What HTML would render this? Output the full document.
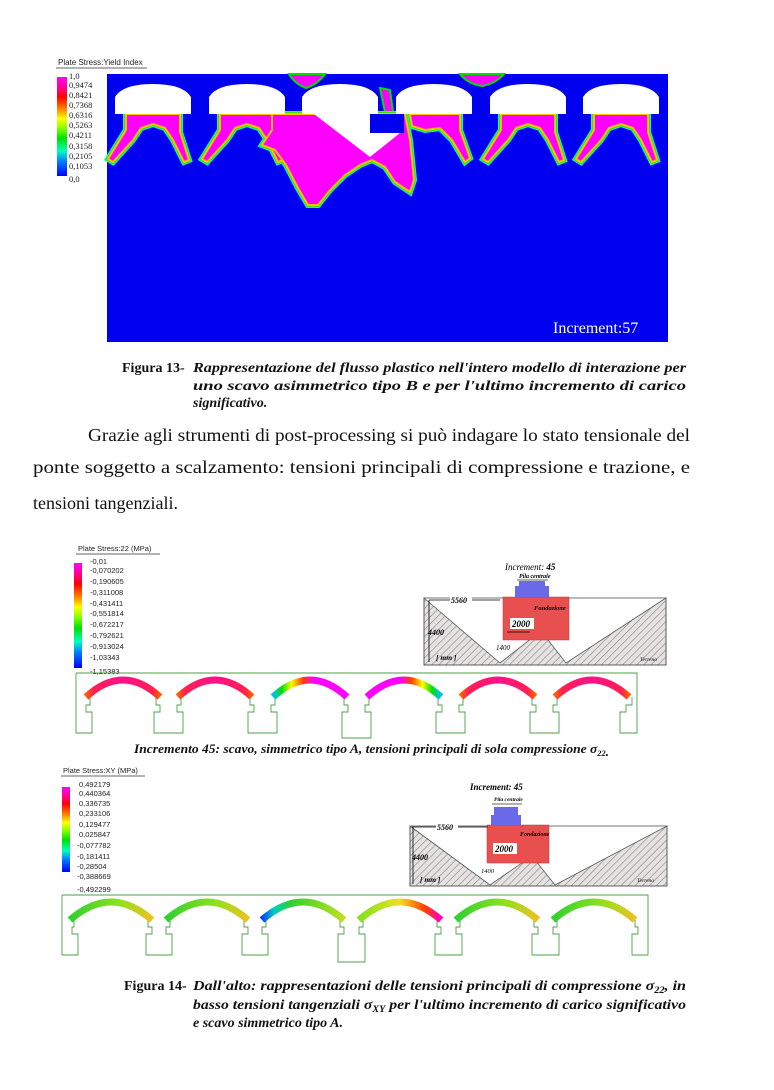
<!DOCTYPE html>
<html><head><meta charset="utf-8"><style>
html,body{margin:0;padding:0;background:#fff}
svg{display:block}
.s{font-family:"Liberation Serif",serif}
.a{font-family:"Liberation Sans","DejaVu Sans",sans-serif}
</style></head><body>
<svg width="774" height="1090" viewBox="0 0 774 1090" xmlns="http://www.w3.org/2000/svg">
<defs>
<linearGradient id="lg" x1="0" y1="0" x2="0" y2="1">
<stop offset="0" stop-color="#ff00ff"/><stop offset="0.12" stop-color="#ff0080"/><stop offset="0.2" stop-color="#ff0000"/><stop offset="0.32" stop-color="#ff8000"/><stop offset="0.42" stop-color="#ffff00"/><stop offset="0.52" stop-color="#80ff00"/><stop offset="0.62" stop-color="#00e000"/><stop offset="0.75" stop-color="#00ffc0"/><stop offset="0.85" stop-color="#0080ff"/><stop offset="1" stop-color="#0000ff"/>
</linearGradient>
<pattern id="hatch" width="5" height="5" patternUnits="userSpaceOnUse" patternTransform="rotate(45)">
<rect width="5" height="5" fill="#e6e2e2"/><line x1="0" y1="0" x2="0" y2="5" stroke="#8a8a8a" stroke-width="1.3"/>
</pattern>
<linearGradient id="ap" x1="0" y1="0" x2="1" y2="0"><stop offset="0" stop-color="#ff6000"/><stop offset="0.1" stop-color="#ff2050"/><stop offset="0.5" stop-color="#ff1090"/><stop offset="0.9" stop-color="#ff2050"/><stop offset="1" stop-color="#ff6000"/></linearGradient>
<linearGradient id="a3" x1="0" y1="0" x2="1" y2="0"><stop offset="0" stop-color="#00c0ff"/><stop offset="0.12" stop-color="#00e000"/><stop offset="0.25" stop-color="#ffff00"/><stop offset="0.4" stop-color="#ff4000"/><stop offset="0.55" stop-color="#ff00ff"/><stop offset="1" stop-color="#ff00ff"/></linearGradient>
<linearGradient id="a4" x1="1" y1="0" x2="0" y2="0"><stop offset="0" stop-color="#00c0ff"/><stop offset="0.12" stop-color="#00e000"/><stop offset="0.25" stop-color="#ffff00"/><stop offset="0.4" stop-color="#ff4000"/><stop offset="0.55" stop-color="#ff00ff"/><stop offset="1" stop-color="#ff00ff"/></linearGradient>
<linearGradient id="xg" x1="0" y1="0" x2="1" y2="0"><stop offset="0" stop-color="#30d030"/><stop offset="0.6" stop-color="#90e020"/><stop offset="1" stop-color="#f0c020"/></linearGradient>
<linearGradient id="x3" x1="0" y1="0" x2="1" y2="0"><stop offset="0" stop-color="#0040ff"/><stop offset="0.15" stop-color="#00d0c0"/><stop offset="0.35" stop-color="#30d030"/><stop offset="1" stop-color="#c0e020"/></linearGradient>
<linearGradient id="x4" x1="0" y1="0" x2="1" y2="0"><stop offset="0" stop-color="#80e020"/><stop offset="0.5" stop-color="#f0e020"/><stop offset="0.8" stop-color="#ff4000"/><stop offset="1" stop-color="#ff00c0"/></linearGradient>
<g id="plume">
<path d="M-27,114 L27,114 L27,132 L36,160 L31,162 L20,140 L12,128 L0,124 L-12,128 L-20,140 L-40,162 L-45,159 L-27,130 Z"/>
</g>
<g id="deck"><path d="M-38,114 V97 Q-30,84 0,84 Q30,84 38,97 V114 Z" fill="#fff"/></g>
</defs>

<!-- FIGURE 13 -->
<text x="58" y="65" class="a" font-size="8" fill="#222">Plate Stress:Yield Index</text>
<line x1="56" y1="68" x2="147" y2="68" stroke="#333" stroke-width="0.8"/>
<rect x="57" y="77" width="10" height="99" fill="url(#lg)"/>
<g class="s" font-size="8.5" fill="#222">
<text x="69" y="79">1,0</text><text x="69" y="88">0,9474</text><text x="69" y="98">0,8421</text><text x="69" y="108">0,7368</text><text x="69" y="118">0,6316</text><text x="69" y="128">0,5263</text><text x="69" y="138">0,4211</text><text x="69" y="149">0,3158</text><text x="69" y="159">0,2105</text><text x="69" y="169">0,1053</text><text x="69" y="182">0,0</text>
</g>
<rect x="107" y="74" width="561" height="268" fill="#0000f0"/>
<g fill="#ff00ff">
<path d="M289,74 L325,74 Q318,84 306,88 Q295,84 289,74Z" stroke="#00e000" stroke-width="2"/>
<path d="M460,74 L504,74 Q495,84 482,86 Q468,84 460,74Z" stroke="#00e000" stroke-width="2"/>
<path d="M380,88 L390,90 L393,112 L385,112 Z" stroke="#00e000" stroke-width="2"/>
</g>
<g>
<g stroke="#00ffd0" stroke-width="6" fill="#00ffd0">
<use href="#plume" x="153"/><use href="#plume" x="247"/><use href="#plume" x="528"/><use href="#plume" x="621"/>
<path d="M272,114 L405,114 L410,140 L414,180 L410,192 L395,182 L385,167 L372,160 L360,165 L345,175 L330,190 L318,205 L308,205 L298,188 L286,165 L275,150 L262,145 L272,130Z"/>
<path d="M410,114 L460,114 L460,130 L470,158 L465,162 L452,140 L440,128 L425,130 L412,126Z"/>
</g>
<g stroke="#40e000" stroke-width="4" fill="#40e000">
<use href="#plume" x="153"/><use href="#plume" x="247"/><use href="#plume" x="528"/><use href="#plume" x="621"/>
<path d="M272,114 L405,114 L410,140 L414,180 L410,192 L395,182 L385,167 L372,160 L360,165 L345,175 L330,190 L318,205 L308,205 L298,188 L286,165 L275,150 L262,145 L272,130Z"/>
<path d="M410,114 L460,114 L460,130 L470,158 L465,162 L452,140 L440,128 L425,130 L412,126Z"/>
</g>
<g stroke="#ffc000" stroke-width="2" fill="#ff00ff">
<use href="#plume" x="153"/><use href="#plume" x="247"/><use href="#plume" x="528"/><use href="#plume" x="621"/>
<path d="M272,114 L405,114 L410,140 L414,180 L410,192 L395,182 L385,167 L372,160 L360,165 L345,175 L330,190 L318,205 L308,205 L298,188 L286,165 L275,150 L262,145 L272,130Z"/>
<path d="M410,114 L460,114 L460,130 L470,158 L465,162 L452,140 L440,128 L425,130 L412,126Z"/>
</g>
</g>
<path d="M314,114 L370,157 L400,133 L370,133 L370,114Z" fill="#fff"/>
<rect x="370" y="114" width="34" height="19" fill="#0000f0"/>
<g>
<use href="#deck" x="153"/><use href="#deck" x="247"/><use href="#deck" x="340"/><use href="#deck" x="434"/><use href="#deck" x="528"/><use href="#deck" x="621"/>
</g>
<text x="553" y="333" class="s" font-size="16" fill="#fff">Increment:57</text>

<g class="s" font-size="14" font-weight="bold" fill="#111">
<text x="122" y="372">Figura 13-</text>
<text x="193" y="372" font-style="italic" textLength="493" lengthAdjust="spacingAndGlyphs">Rappresentazione del flusso plastico nell'intero modello di interazione per</text>
<text x="193" y="390" font-style="italic" textLength="493" lengthAdjust="spacingAndGlyphs">uno scavo asimmetrico tipo B e per l'ultimo incremento di carico</text>
<text x="193" y="407" font-style="italic">significativo.</text>
</g>
<g class="s" font-size="18" fill="#111">
<text x="88" y="441" textLength="602" lengthAdjust="spacingAndGlyphs">Grazie agli strumenti di post-processing si può indagare lo stato tensionale del</text>
<text x="33" y="473" textLength="657" lengthAdjust="spacingAndGlyphs">ponte soggetto a scalzamento: tensioni principali di compressione e trazione, e</text>
<text x="33" y="509">tensioni tangenziali.</text>
</g>

<!-- FIGURE 2 -->
<text x="78" y="551" class="a" font-size="7.5" fill="#222">Plate Stress:22  (MPa)</text>
<line x1="76" y1="554" x2="160" y2="554" stroke="#333" stroke-width="0.7"/>
<rect x="74" y="563" width="8" height="105" fill="url(#lg)"/>
<g class="a" font-size="7.5" fill="#222">
<text x="90" y="564">-0,01</text><text x="90" y="573">-0,070202</text><text x="90" y="584">-0,190605</text><text x="90" y="595">-0,311008</text><text x="90" y="606">-0,431411</text><text x="90" y="616">-0,551814</text><text x="90" y="627">-0,672217</text><text x="90" y="638">-0,792621</text><text x="90" y="649">-0,913024</text><text x="90" y="660">-1,03343</text><text x="90" y="674">-1,15383</text>
</g>
<g>
<path d="M424,598 L500,663 L541,631 L566,663 L666,598 V665 H424 Z" fill="url(#hatch)" stroke="#555" stroke-width="0.8"/>
<rect x="424" y="598" width="242" height="67" fill="none" stroke="#555" stroke-width="0.8"/>
<rect x="503" y="597" width="66" height="43" fill="#e85050" stroke="#c33" stroke-width="0.5"/>
<path d="M515,597 V586 H519 V581 H545 V586 H549 V597Z" fill="#6a6ae8"/>
<line x1="517" y1="580" x2="548" y2="580" stroke="#333" stroke-width="0.7"/>
<text x="519" y="578" class="s" font-size="6" font-style="italic" font-weight="bold">Pila centrale</text>
<text x="534" y="610" class="s" font-size="6.5" font-style="italic" font-weight="bold">Fondazione</text>
<rect x="510" y="618" width="24" height="11" fill="#fff"/>
<text x="512" y="627" class="s" font-size="9" font-style="italic" font-weight="bold">2000</text>
<line x1="507" y1="632" x2="530" y2="632" stroke="#000" stroke-width="0.8"/>
<text x="496" y="650" class="s" font-size="7" font-style="italic">1400</text>
<line x1="429" y1="600" x2="500" y2="600" stroke="#000" stroke-width="0.8"/>
<rect x="450" y="595" width="22" height="9" fill="#fff"/>
<text x="451" y="603" class="s" font-size="8" font-style="italic" font-weight="bold">5560</text>
<line x1="429" y1="600" x2="429" y2="662" stroke="#000" stroke-width="0.8"/>
<text x="428" y="635" class="s" font-size="8" font-style="italic" font-weight="bold">4400</text>
<text x="436" y="660" class="s" font-size="7.5" font-style="italic" font-weight="bold">[ mm ]</text>
<text x="640" y="661" class="s" font-size="5.5" font-style="italic">Terreno</text>
<text x="505" y="570" class="s" font-size="9" font-style="italic">Increment: <tspan font-weight="bold">45</tspan></text>
</g>
<g fill="none" stroke="#4aa04a" stroke-width="0.9">
<path d="M76,673 H637 V733 H620 V712 H626 V705 H632 V697 M76,673 V733 H92 V712 H86 V705 H90 V697"/>
<path d="M156,697 V705 H160 V712 H154 V733 H183 V712 H177 V705 H181 V697"/>
<path d="M250,697 V705 H254 V712 H248 V733 H277 V712 H271 V705 H275 V697"/>
<path d="M344,697 V705 H348 V712 H342 V738 H371 V712 H365 V705 H369 V697"/>
<path d="M438,697 V705 H442 V712 H436 V733 H465 V712 H459 V705 H463 V697"/>
<path d="M532,697 V705 H536 V712 H530 V733 H559 V712 H553 V705 H557 V697"/>
</g>
<g fill="none" stroke-width="7">
<path d="M86,697 Q123,663 160,697" stroke="url(#ap)"/>
<path d="M178,697 Q215,663 252,697" stroke="url(#ap)"/>
<path d="M273,697 Q310,663 347,697" stroke="url(#a3)"/>
<path d="M367,697 Q404,663 441,697" stroke="url(#a4)"/>
<path d="M461,697 Q498,663 535,697" stroke="url(#ap)"/>
<path d="M555,697 Q592,663 629,697" stroke="url(#ap)"/>
</g>
<text x="134" y="753" class="s" font-size="13" font-style="italic" font-weight="bold" fill="#111" textLength="475" lengthAdjust="spacingAndGlyphs">Incremento 45: scavo, simmetrico tipo A, tensioni principali di sola compressione σ<tspan font-size="8" dy="3">22</tspan>.</text>

<!-- FIGURE 3 -->
<text x="63" y="773" class="a" font-size="7.5" fill="#222">Plate Stress:XY  (MPa)</text>
<line x1="61" y1="776" x2="145" y2="776" stroke="#333" stroke-width="0.7"/>
<rect x="62" y="787" width="8" height="85" fill="url(#lg)"/>
<g class="a" font-size="7.5" fill="#222">
<text x="79" y="787">0,492179</text><text x="79" y="796">0,440364</text><text x="79" y="806">0,336735</text><text x="79" y="816">0,233106</text><text x="79" y="827">0,129477</text><text x="79" y="837">0,025847</text><text x="77" y="848">-0,077782</text><text x="77" y="859">-0,181411</text><text x="77" y="869">-0,28504</text><text x="77" y="879">-0,388669</text><text x="77" y="892">-0,492299</text>
</g>
<g>
<path d="M410,826 L490,885 L532,856 L555,885 L667,826 V886 H410 Z" fill="url(#hatch)" stroke="#555" stroke-width="0.8"/>
<rect x="410" y="826" width="257" height="60" fill="none" stroke="#555" stroke-width="0.8"/>
<rect x="487" y="825" width="62" height="38" fill="#e85050" stroke="#c33" stroke-width="0.5"/>
<path d="M491,825 V815 H494 V807 H518 V815 H521 V825Z" fill="#6a6ae8"/>
<line x1="492" y1="804" x2="522" y2="804" stroke="#333" stroke-width="0.7"/>
<text x="494" y="801" class="s" font-size="5.5" font-style="italic" font-weight="bold">Pila centrale</text>
<text x="520" y="836" class="s" font-size="6" font-style="italic" font-weight="bold">Fondazione</text>
<rect x="493" y="843" width="24" height="11" fill="#fff"/>
<text x="495" y="852" class="s" font-size="9" font-style="italic" font-weight="bold">2000</text>
<text x="481" y="873" class="s" font-size="6.5" font-style="italic">1400</text>
<line x1="412" y1="827" x2="488" y2="827" stroke="#000" stroke-width="0.8"/>
<rect x="436" y="822" width="22" height="9" fill="#fff"/>
<text x="437" y="830" class="s" font-size="8" font-style="italic" font-weight="bold">5560</text>
<line x1="413" y1="827" x2="413" y2="884" stroke="#000" stroke-width="0.8"/>
<text x="412" y="860" class="s" font-size="8" font-style="italic" font-weight="bold">4400</text>
<text x="420" y="882" class="s" font-size="7.5" font-style="italic" font-weight="bold">[ mm ]</text>
<text x="637" y="882" class="s" font-size="5.5" font-style="italic">Terreno</text>
<text x="470" y="790" class="s" font-size="9" font-style="italic" font-weight="bold">Increment: 45</text>
</g>
<g fill="none" stroke="#4aa04a" stroke-width="0.9">
<path d="M62,895 H648 V955 H632 V934 H638 V927 H635 V920 M62,895 V955 H78 V934 H72 V927 H74 V920"/>
<path d="M148,920 V927 H152 V934 H146 V955 H172 V934 H166 V927 H170 V920"/>
<path d="M244,920 V927 H248 V934 H242 V955 H268 V934 H262 V927 H266 V920"/>
<path d="M340,920 V927 H344 V934 H338 V962 H365 V934 H359 V927 H363 V920"/>
<path d="M437,920 V927 H441 V934 H435 V955 H462 V934 H456 V927 H460 V920"/>
<path d="M534,920 V927 H538 V934 H532 V955 H559 V934 H553 V927 H557 V920"/>
</g>
<g fill="none" stroke-width="7">
<path d="M70,920 Q111,884 152,920" stroke="url(#xg)"/>
<path d="M166,920 Q207,884 248,920" stroke="url(#xg)"/>
<path d="M262,920 Q303,884 344,920" stroke="url(#x3)"/>
<path d="M359,920 Q400,884 441,920" stroke="url(#x4)"/>
<path d="M456,920 Q497,884 538,920" stroke="url(#xg)"/>
<path d="M553,920 Q594,884 635,920" stroke="url(#xg)"/>
</g>
<g class="s" font-size="14" font-weight="bold" fill="#111">
<text x="124" y="990">Figura 14-</text>
<text x="193" y="990" font-style="italic" textLength="493" lengthAdjust="spacingAndGlyphs">Dall'alto: rappresentazioni delle tensioni principali di compressione σ<tspan font-size="9" dy="3">22</tspan><tspan dy="-3">, in</tspan></text>
<text x="193" y="1009" font-style="italic" textLength="493" lengthAdjust="spacingAndGlyphs">basso tensioni tangenziali σ<tspan font-size="9" dy="3">XY</tspan><tspan dy="-3"> per l'ultimo incremento di carico significativo</tspan></text>
<text x="193" y="1027" font-style="italic">e scavo simmetrico tipo A.</text>
</g>
</svg>
</body></html>
